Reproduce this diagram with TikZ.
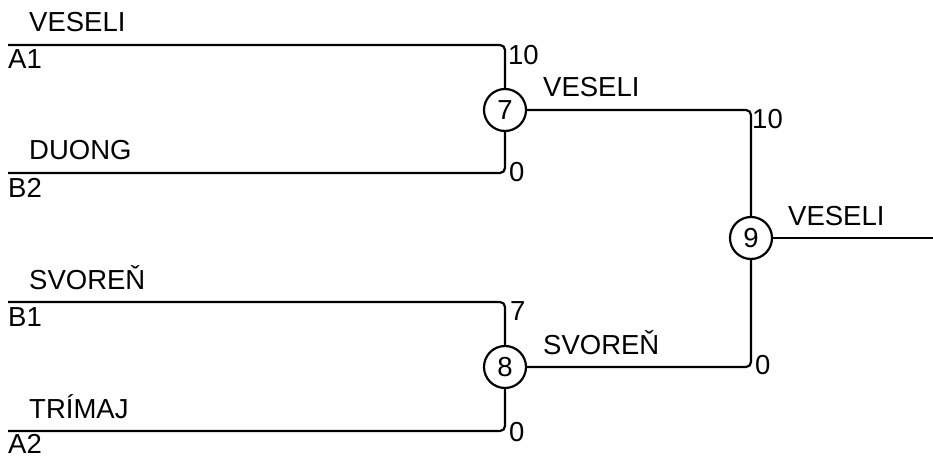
\documentclass[tikz,border=0pt]{standalone}
\usepackage{fontspec}
\setmainfont{Liberation Sans}
\begin{document}
\begin{tikzpicture}[x=1pt,y=-1pt,
  wire/.style={line width=2.2pt,rounded corners=5pt},
  match/.style={circle,draw,line width=2.2pt,minimum size=42pt,inner sep=0pt,font=\fontsize{27.5}{30}\selectfont},
  lbl/.style={anchor=base west,inner sep=0pt,font=\fontsize{27.5}{30}\selectfont}]
\useasboundingbox (0,0) rectangle (933,457);
% matches
\node[match] (m7) at (505,110) {7};
\node[match] (m8) at (505,367) {8};
\node[match] (m9) at (751,238) {9};
% free ends
\coordinate (a1) at (8,45);
\coordinate (b2) at (8,173);
\coordinate (b1) at (8,302);
\coordinate (a2) at (8,431);
\coordinate (out) at (933,238);
% connectors
\draw[wire] (a1) -| (m7);
\draw[wire] (b2) -| (m7);
\draw[wire] (b1) -| (m8);
\draw[wire] (a2) -| (m8);
\draw[wire] (m7) -| (m9);
\draw[wire] (m8) -| (m9);
\draw[wire] (m9) -- (out);
% team labels
\node[lbl] (t1) at (29,32) {VESELI};
\node[lbl] (s1) at (8,69) {A1};
\node[lbl] (t2) at (29,160) {DUONG};
\node[lbl] (s2) at (8,197) {B2};
\node[lbl] (t3) at (29,289) {SVOREŇ};
\node[lbl] (s3) at (8,326) {B1};
\node[lbl] (t4) at (29,418) {TRÍMAJ};
\node[lbl] (s4) at (8,453) {A2};
% winners
\node[lbl] (w7) at (543,97) {VESELI};
\node[lbl] (w8) at (543,354) {SVOREŇ};
\node[lbl] (w9) at (788,225) {VESELI};
% scores
\node[lbl] (c1) at (508,65) {10};
\node[lbl] (c2) at (509,182) {0};
\node[lbl] (c3) at (510,320) {7};
\node[lbl] (c4) at (509,441) {0};
\node[lbl] (c5) at (752,129) {10};
\node[lbl] (c6) at (755,374) {0};
\end{tikzpicture}
\end{document}
